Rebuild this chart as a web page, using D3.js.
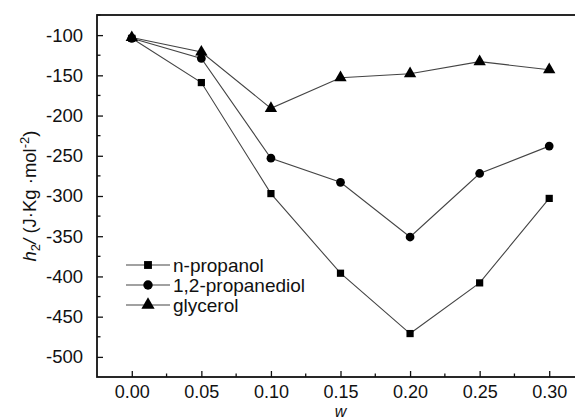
<!DOCTYPE html>
<html>
<head>
<meta charset="utf-8">
<script src="https://cdn.jsdelivr.net/npm/d3@7"></script>
<style>
  body { margin: 0; background: #fff; }
  svg { font-family: "Liberation Sans", Arial, sans-serif; }
</style>
</head>
<body>
<svg id="chart" width="575" height="420"></svg>
<script>
// values
let wValues = [0.00, 0.05, 0.10, 0.15, 0.20, 0.25, 0.30]
let nPropanol = [-104, -159, -297, -396, -471, -408, -303]
let propanediol = [-104, -129, -253, -283, -351, -272, -238]
let glycerol = [-103, -121, -191, -153, -148, -133, -143]
let seriesNames = ["n-propanol", "1,2-propanediol", "glycerol"]
let xTicks = [0.00, 0.05, 0.10, 0.15, 0.20, 0.25, 0.30]
let yTicks = [-500, -450, -400, -350, -300, -250, -200, -150, -100]

let dims = {left: 97, right: 584, top: 15, bottom: 377}
let svg = d3.select("#chart")

let xscale = d3.scaleLinear().domain([-0.025, 0.325]).range([dims.left, dims.right])
let yscale = d3.scaleLinear().domain([-525, -75]).range([dims.bottom, dims.top])

// x axis, ticks point inward
let axisx = d3.axisBottom(xscale).tickValues(xTicks).tickFormat(d3.format(".2f"))
  .tickSizeInner(-6).tickSizeOuter(0).tickPadding(8)
let gx = svg.append("g").attr("transform", `translate(0,${dims.bottom})`).call(axisx)
gx.select(".domain").remove()
gx.selectAll("text").attr("font-size", 18).attr("fill", "#111").attr("font-family", null)
gx.selectAll("line").attr("stroke", "#111").attr("stroke-width", 1.3)
// minor x ticks
svg.append("g").selectAll("line").data(xTicks.slice(0, -1).map(d => d + 0.025)).join("line")
  .attr("x1", d => xscale(d)).attr("x2", d => xscale(d))
  .attr("y1", dims.bottom).attr("y2", dims.bottom - 3.5)
  .attr("stroke", "#111").attr("stroke-width", 1.3)

// y axis
let axisy = d3.axisLeft(yscale).tickValues(yTicks).tickFormat(d => String(d))
  .tickSizeInner(-6).tickSizeOuter(0).tickPadding(14)
let gy = svg.append("g").attr("transform", `translate(${dims.left},0)`).call(axisy)
gy.select(".domain").remove()
gy.selectAll("text").attr("font-size", 18.5).attr("fill", "#111").attr("font-family", null)
gy.selectAll("line").attr("stroke", "#111").attr("stroke-width", 1.3)
svg.append("g").selectAll("line").data(yTicks.map(d => d + 25)).join("line")
  .attr("x1", dims.left).attr("x2", dims.left + 3.5)
  .attr("y1", d => yscale(d)).attr("y2", d => yscale(d))
  .attr("stroke", "#111").attr("stroke-width", 1.3)

// frame
svg.append("rect")
  .attr("x", dims.left).attr("y", dims.top)
  .attr("width", dims.right - dims.left).attr("height", dims.bottom - dims.top)
  .attr("fill", "none").attr("stroke", "#111").attr("stroke-width", 1.8)

// series
let symbols = [d3.symbolSquare, d3.symbolCircle, d3.symbolTriangle]
let sizes = [52, 60, 66]
let allSeries = [nPropanol, propanediol, glycerol]
let line = d3.line().x((d, i) => xscale(wValues[i])).y(d => yscale(d))

allSeries.forEach((vals, k) => {
  svg.append("path").datum(vals)
    .attr("d", line).attr("fill", "none")
    .attr("stroke", "#444").attr("stroke-width", 1.1)
  svg.append("g").selectAll("path").data(vals).join("path")
    .attr("d", d3.symbol().type(symbols[k]).size(sizes[k]))
    .attr("transform", (d, i) => `translate(${xscale(wValues[i])},${yscale(d)})`)
    .attr("fill", "#000")
})

// legend
let leg = svg.append("g")
seriesNames.forEach((name, k) => {
  let y = 265 + k * 20
  leg.append("line").attr("x1", 126).attr("x2", 170).attr("y1", y).attr("y2", y)
    .attr("stroke", "#444").attr("stroke-width", 1.1)
  leg.append("path").attr("d", d3.symbol().type(symbols[k]).size(sizes[k] + 10)())
    .attr("transform", `translate(148,${y})`).attr("fill", "#000")
  leg.append("text").attr("x", 173).attr("y", y + 7)
    .attr("font-size", 19).attr("fill", "#111").text(name)
})

// axis titles
svg.append("text").attr("x", xscale(0.15)).attr("y", 416.5)
  .attr("text-anchor", "middle").attr("font-size", 16).attr("font-style", "italic")
  .attr("fill", "#111").text("w")

let ylab = svg.append("text")
  .attr("transform", `translate(36,${(dims.top + dims.bottom) / 2}) rotate(-90)`)
  .attr("text-anchor", "middle").attr("font-size", 18.5).attr("fill", "#111")
ylab.append("tspan").attr("font-style", "italic").text("h")
ylab.append("tspan").attr("font-size", 13).attr("dy", 4).text("2")
ylab.append("tspan").attr("dy", -4).attr("font-style", "italic").text("/")
ylab.append("tspan").text(" (J\u00b7Kg \u00b7mol")
ylab.append("tspan").attr("font-size", 13).attr("dy", -7).text("-2")
ylab.append("tspan").attr("dy", 7).text(")")
</script>
</body>
</html>
